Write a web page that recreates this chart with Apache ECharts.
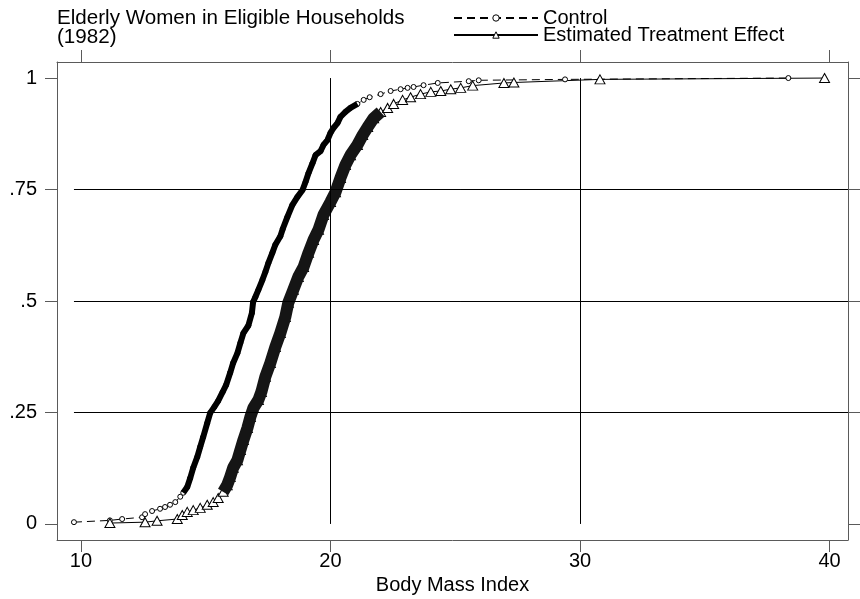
<!DOCTYPE html>
<html>
<head>
<meta charset="utf-8">
<script src="https://cdn.jsdelivr.net/npm/echarts@6/dist/echarts.min.js"></script>
<style>
  html, body { margin: 0; padding: 0; background: #fff; }
  #chart { width: 860px; height: 599px; }
</style>
</head>
<body>
<div id="chart"></div>
<script>
const controlBmi = [9.72, 11.16, 11.65, 12.45, 12.57, 12.85, 13.17, 13.37, 13.57, 13.78,
  13.98, 14.10, 14.26, 14.38, 14.50, 14.66, 14.78, 14.90, 15.06, 15.18,
  15.34, 15.50, 15.68, 15.82, 15.98, 16.10, 16.27, 16.39, 16.51, 16.71,
  16.85, 16.90, 16.99, 17.11, 17.27, 17.39, 17.51, 17.67, 17.79, 17.99,
  18.09, 18.27, 18.47, 18.67, 18.88, 19.00, 19.12, 19.28, 19.40, 19.60,
  19.72, 19.88, 20.00, 20.12, 20.28, 20.40, 20.60, 20.80, 21.08, 21.33,
  21.57, 22.01, 22.41, 22.81, 23.09, 23.33, 23.73, 24.30, 25.54, 25.94,
  29.40, 38.35];
const controlCdf = [0.004, 0.008, 0.011, 0.015, 0.022, 0.029, 0.034, 0.038, 0.043, 0.049,
  0.061, 0.070, 0.083, 0.103, 0.126, 0.150, 0.173, 0.195, 0.226, 0.249,
  0.262, 0.276, 0.296, 0.312, 0.339, 0.361, 0.383, 0.406, 0.428, 0.445,
  0.473, 0.498, 0.509, 0.525, 0.547, 0.565, 0.585, 0.608, 0.626, 0.645,
  0.662, 0.688, 0.715, 0.733, 0.749, 0.767, 0.787, 0.809, 0.827, 0.836,
  0.850, 0.861, 0.877, 0.888, 0.899, 0.913, 0.924, 0.933, 0.942, 0.951,
  0.957, 0.964, 0.971, 0.975, 0.978, 0.980, 0.984, 0.989, 0.993, 0.995,
  0.997, 1.000];

const treatBmi = [11.16, 12.57, 13.05, 13.86, 14.06, 14.26, 14.50, 14.78, 15.06, 15.30,
  15.50, 15.70, 15.86, 15.98, 16.10, 16.27, 16.39, 16.51, 16.67, 16.79,
  16.91, 17.11, 17.23, 17.39, 17.59, 17.79, 17.99, 18.19, 18.31, 18.51,
  18.71, 18.92, 19.12, 19.32, 19.52, 19.72, 20.00, 20.20, 20.40, 20.60,
  20.80, 21.08, 21.29, 21.49, 21.73, 22.01, 22.29, 22.53, 22.89, 23.21,
  23.61, 24.02, 24.42, 24.82, 25.22, 25.70, 26.95, 27.35, 30.80, 39.80];
const treatCdf = [0.002, 0.004, 0.007, 0.011, 0.020, 0.027, 0.031, 0.036, 0.043, 0.049,
  0.058, 0.072, 0.087, 0.105, 0.126, 0.143, 0.166, 0.188, 0.215, 0.240,
  0.260, 0.278, 0.296, 0.330, 0.361, 0.397, 0.428, 0.464, 0.496, 0.525,
  0.554, 0.576, 0.608, 0.637, 0.660, 0.693, 0.722, 0.744, 0.776, 0.805,
  0.827, 0.850, 0.872, 0.890, 0.910, 0.924, 0.933, 0.942, 0.951, 0.957,
  0.964, 0.969, 0.971, 0.975, 0.978, 0.983, 0.989, 0.990, 0.997, 1.000];

const xTicks = [10, 20, 30, 40];
const yTicks = [0, 0.25, 0.5, 0.75, 1];
const yTickLabels = ['0', '.25', '.5', '.75', '1'];
const xGrid = [20, 30];
const yGrid = [0.25, 0.5, 0.75];

// where the markers pile up into a solid band
const controlBand = [11, 58];
const treatBand = [11, 45];

const zip = (xs, ys) => xs.map((x, i) => [x, ys[i]]);
const controlData = zip(controlBmi, controlCdf);
const treatData = zip(treatBmi, treatCdf);

const X_MIN = 9.04, X_MAX = 40.74, Y_MIN = -0.036, Y_MAX = 1.036;
const frameColor = '#5a5a5a';
const font = '"Liberation Sans", Arial, sans-serif';

const chart = echarts.init(document.getElementById('chart'));

const xAxisBase = {
  type: 'value',
  min: X_MIN,
  max: X_MAX,
  axisLine: { show: true, onZero: false, lineStyle: { color: frameColor, width: 1 } },
  axisTick: { show: true, customValues: xTicks, length: 12, lineStyle: { color: frameColor } },
  splitLine: { show: false }
};
const yAxisBase = {
  type: 'value',
  min: Y_MIN,
  max: Y_MAX,
  axisLine: { show: true, onZero: false, lineStyle: { color: frameColor, width: 1 } },
  axisTick: { show: true, customValues: yTicks, length: 12, lineStyle: { color: frameColor } },
  splitLine: { show: false }
};

const option = {
  animation: false,
  backgroundColor: '#fff',
  textStyle: { fontFamily: font },
  title: {
    text: 'Elderly Women in Eligible Households\n(1982)',
    left: 57,
    top: 9,
    padding: 0,
    textStyle: { fontSize: 20.6, fontWeight: 'normal', lineHeight: 19, color: '#000', fontFamily: font }
  },
  legend: {
    data: ['Control', 'Estimated Treatment Effect'],
    orient: 'vertical',
    left: 453,
    top: 8,
    padding: 0,
    itemGap: -3,
    itemWidth: 84,
    itemHeight: 8,
    selectedMode: false,
    itemStyle: { borderWidth: 1 },
    textStyle: { fontSize: 20, lineHeight: 16, color: '#000', fontFamily: font }
  },
  grid: { left: 57, right: 12, top: 62, bottom: 59, outerBoundsMode: 'none' },
  xAxis: [
    Object.assign({}, xAxisBase, {
      position: 'bottom',
      name: 'Body Mass Index',
      nameLocation: 'middle',
      nameGap: 26,
      nameTextStyle: { fontSize: 20, color: '#000', fontFamily: font },
      axisLabel: { customValues: xTicks, margin: 11, fontSize: 20, color: '#000', fontFamily: font }
    }),
    Object.assign({}, xAxisBase, {
      position: 'top',
      axisLabel: { show: false }
    })
  ],
  yAxis: [
    Object.assign({}, yAxisBase, {
      position: 'left',
      axisLabel: {
        customValues: yTicks,
        margin: 20,
        fontSize: 20,
        color: '#000',
        fontFamily: font,
        formatter: v => yTickLabels[yTicks.indexOf(v)]
      }
    }),
    Object.assign({}, yAxisBase, {
      position: 'right',
      axisLabel: { show: false }
    })
  ],
  series: [
    {
      name: 'Control',
      type: 'line',
      data: controlData,
      showAllSymbol: true,
      symbol: 'circle',
      symbolSize: 5,
      z: 2,
      lineStyle: { color: '#000', width: 1, type: [8, 5] },
      itemStyle: { color: '#fff', borderColor: '#000', borderWidth: 1 },
      markLine: {
        silent: true,
        symbol: 'none',
        label: { show: false },
        lineStyle: { color: '#000', width: 1, type: 'solid' },
        data: [
          ...yGrid.map(v => [{ coord: [controlBmi[0], v] }, { coord: [X_MAX, v] }]),
          ...xGrid.map(v => [{ coord: [v, 0] }, { coord: [v, 1] }])
        ]
      }
    },
    {
      name: 'Estimated Treatment Effect',
      type: 'line',
      data: treatData,
      showAllSymbol: true,
      symbol: 'triangle',
      symbolSize: [10, 9],
      z: 2,
      lineStyle: { color: '#000', width: 1 },
      itemStyle: { color: '#fff', borderColor: '#000', borderWidth: 1 }
    },
    {
      name: 'controlBand',
      type: 'line',
      data: controlData.slice(controlBand[0], controlBand[1] + 1),
      symbol: 'none',
      silent: true,
      z: 3,
      lineStyle: { color: '#000', width: 6 }
    },
    {
      name: 'treatBand',
      type: 'line',
      data: treatData.slice(treatBand[0], treatBand[1] + 1),
      symbol: 'none',
      silent: true,
      z: 3,
      lineStyle: { color: '#151515', width: 12 }
    }
  ]
};

chart.setOption(option);
window.addEventListener('resize', () => chart.resize());
</script>
</body>
</html>
